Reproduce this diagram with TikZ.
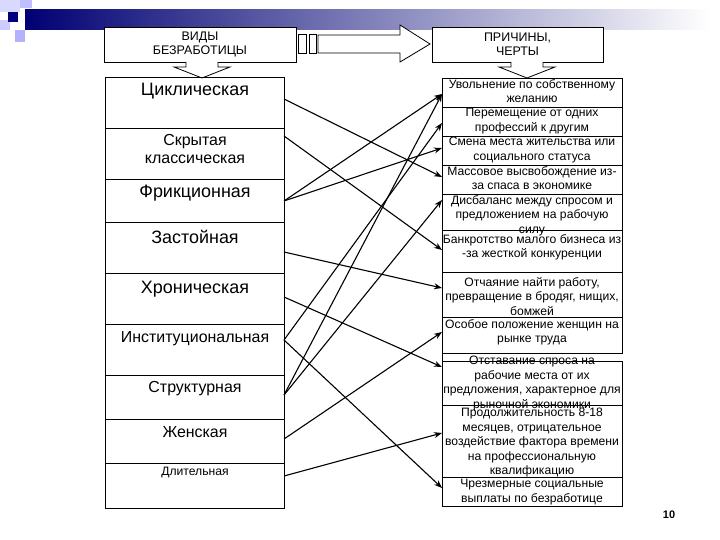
\documentclass[tikz,border=0pt]{standalone}
\usepackage{fontspec}
\setmainfont{Liberation Sans}
\usetikzlibrary{arrows.meta,shapes.arrows}
\begin{document}
\begin{tikzpicture}[x=1bp,y=-1bp,
  box/.style={draw,line width=0.8bp},
  rt/.style={font=\fontsize{12.2}{14.5}\selectfont,align=center,anchor=north,inner sep=0},
  lt/.style={font=\fontsize{18}{18}\selectfont,align=center,inner sep=0},
  conn/.style={line width=1.1bp,-{Stealth[length=8bp,width=6bp]}}]
\useasboundingbox (0,0) rectangle (720,540);
% decoration
\shade[left color=blue!45!black, right color=white] (25,10) rectangle (710,30);
\fill[blue!15] (0,0) rectangle (20,12);
\fill[blue!25] (20,0) rectangle (32,8);
\fill[blue!20] (0,20) rectangle (10,30);
\fill[blue!30] (15,30) rectangle (25,42);
\fill[blue!50!black] (8,12) rectangle (18,22);
% headers
\node[box,fill=white,minimum width=192bp,minimum height=35bp,align=center,font=\fontsize{12.5}{14}\selectfont] (h1) at (200,44.5) {ВИДЫ\\БЕЗРАБОТИЦЫ};
\node[box,fill=white,minimum width=171bp,minimum height=35bp,align=center,font=\fontsize{12.5}{14}\selectfont] (h2) at (517.5,44.5) {ПРИЧИНЫ,\\ЧЕРТЫ};
\draw[box] (298,34) rectangle (306,53);
\draw[box] (309,34) rectangle (316,53);
\draw[box,fill=white] (318,35) -- (400,35) -- (400,25) -- (430,44) -- (400,62) -- (400,53) -- (318,53) -- cycle;
\draw[box,fill=white] (186,62) -- (186,67) -- (174,67) -- (202,78) -- (230,67) -- (218,67) -- (218,62);
\draw[box,fill=white] (511,62) -- (511,67) -- (499,67) -- (527,78) -- (555,67) -- (543,67) -- (543,62);
% left column
\foreach \a/\b in {77/128,128/179,179/222,222/273,273/324,324/375,375/419,419/463,463/508}
  \draw[box] (105,\a) rectangle (284,\b);
\node[lt] (l1) at (195,91) {Циклическая};
\node[lt,font=\fontsize{16}{18}\selectfont] (l2) at (195,149) {Скрытая\\классическая};
\node[lt] (l3) at (195,193) {Фрикционная};
\node[lt] (l4) at (195,237) {Застойная};
\node[lt] (l5) at (195,289) {Хроническая};
\node[lt,font=\fontsize{16}{18}\selectfont] (l6) at (195,339) {Институциональная};
\node[lt,font=\fontsize{16}{18}\selectfont] (l7) at (195,389) {Структурная};
\node[lt,font=\fontsize{16}{18}\selectfont] (l8) at (195,432) {Женская};
\node[lt,font=\fontsize{12.2}{14}\selectfont] (l9) at (195,473) {Длительная};
% right column
\foreach \a/\b in {78/107,107/136,136/165,165/194,194/230,230/272,272/317,317/353,361/405,405/477,477/506}
  \draw[box] (442,\a) rectangle (622,\b);
\draw[box] (442,353) -- (442,361);
\node[rt] (r1) at (532,79) {Увольнение по собственному\\желанию};
\node[rt] (r2) at (532,108) {Перемещение от одних\\профессий к другим};
\node[rt] (r3) at (532,137) {Смена места жительства или\\социального статуса};
\node[rt] (r4) at (532,166) {Массовое высвобождение из-\\за спаса в экономике};
\node[rt] (r5) at (532,195) {Дисбаланс между спросом и\\предложением на рабочую\\силу};
\node[rt] (r6) at (532,234) {Банкротство малого бизнеса из\\-за жесткой конкуренции};
\node[rt] (r7) at (532,277) {Отчаяние найти работу,\\превращение в бродяг, нищих,\\бомжей};
\node[rt] (r8) at (532,319) {Особое положение женщин на\\рынке труда};
\node[rt] (r9) at (532,356) {Отставание  спроса на\\рабочие места от их\\предложения, характерное для\\рыночной экономики};
\node[rt] (r10) at (532,408) {Продолжительность 8-18\\месяцев, отрицательное\\воздействие фактора времени\\на профессиональную\\квалификацию};
\node[rt] (r11) at (532,479) {Чрезмерные социальные\\выплаты по безработице};
% connector endpoints
\coordinate (s1) at (284,99);
\coordinate (s2) at (284,136);
\coordinate (s3) at (284,201);
\coordinate (s4) at (284,252);
\coordinate (s5) at (284,297);
\coordinate (s6) at (284,340);
\coordinate (s7) at (284,395);
\coordinate (s8) at (284,439);
\coordinate (s9) at (284,476);
\coordinate (e1) at (442,94);
\coordinate (e2) at (442,123);
\coordinate (e3) at (442,148);
\coordinate (e4) at (442,177);
\coordinate (e5) at (442,200);
\coordinate (e6) at (442,250);
\coordinate (e7) at (442,288);
\coordinate (e8) at (442,332);
\coordinate (e9) at (442,367);
\coordinate (e10) at (442,433);
\coordinate (e11) at (442,488);
\draw[conn] (s1) -- (e4);
\draw[conn] (s2) -- (e6);
\draw[conn] (s3) -- (e1);
\draw[conn] (s3) -- (e3);
\draw[conn] (s4) -- (e7);
\draw[conn] (s5) -- (e9);
\draw[conn] (s6) -- (e2);
\draw[conn] (s6) -- (e11);
\draw[conn] (s7) -- (e1);
\draw[conn] (s7) -- (e5);
\draw[conn] (s8) -- (e8);
\draw[conn] (s9) -- (e10);
\node[font=\bfseries\fontsize{11}{13}\selectfont] (pg) at (669,515) {10};
\end{tikzpicture}
\end{document}
